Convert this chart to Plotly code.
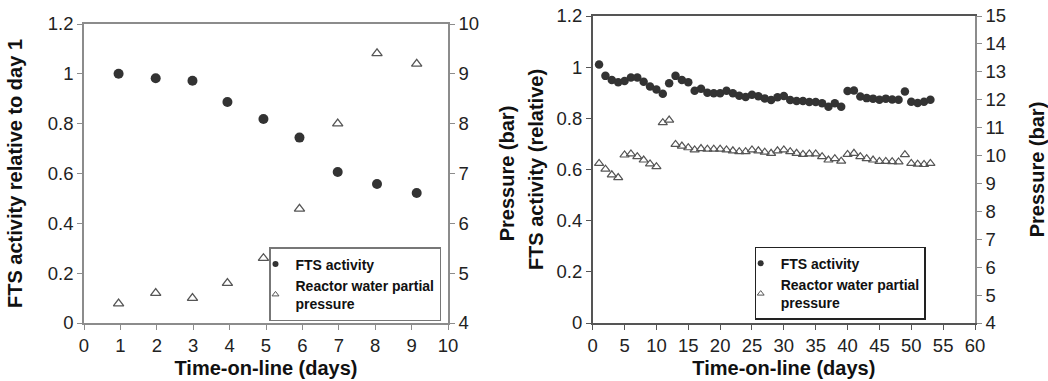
import plotly.graph_objects as go

# ---- Left panel data ----
left_days = [0.95, 1.97, 2.98, 3.94, 4.93, 5.92, 6.97, 8.05, 9.14]
left_activity = [1.0, 0.982, 0.972, 0.887, 0.819, 0.744, 0.606, 0.558, 0.522]
left_pressure = [4.39, 4.60, 4.50, 4.80, 5.30, 6.29, 8.0, 9.41, 9.20]

# ---- Right panel data ----
right_days = list(range(1, 54))
right_activity = [1.01, 0.966, 0.950, 0.941, 0.946, 0.960, 0.960, 0.943, 0.924, 0.913,
                  0.896, 0.937, 0.966, 0.950, 0.941, 0.908, 0.916, 0.900, 0.898, 0.898,
                  0.908, 0.898, 0.888, 0.883, 0.892, 0.886, 0.878, 0.872, 0.882, 0.887,
                  0.872, 0.868, 0.868, 0.864, 0.864, 0.859, 0.845, 0.859, 0.845, 0.907,
                  0.909, 0.885, 0.879, 0.877, 0.873, 0.877, 0.874, 0.873, 0.905, 0.865,
                  0.860, 0.865, 0.873]
right_pressure = [9.72, 9.51, 9.31, 9.21, 10.02, 10.06, 9.96, 9.84, 9.70, 9.60,
                  11.18, 11.27, 10.40, 10.34, 10.28, 10.20, 10.25, 10.23, 10.23, 10.23,
                  10.20, 10.17, 10.14, 10.14, 10.20, 10.17, 10.12, 10.08, 10.17, 10.20,
                  10.14, 10.08, 10.04, 10.06, 10.06, 9.96, 9.84, 9.89, 9.80, 10.04,
                  10.08, 9.96, 9.89, 9.84, 9.79, 9.79, 9.78, 9.77, 10.03, 9.72,
                  9.69, 9.68, 9.72]

left_xticks = list(range(0, 11))
right_xticks = list(range(0, 61, 5))

FONT = "Liberation Sans, Arial, Helvetica, sans-serif"
TICKFONT = dict(family=FONT, size=18.5, color="#222")
TITLEFONT = dict(family=FONT, size=20, color="#111", weight="bold")
CIRCLE = "#333333"
TRI = "#555555"

fig = go.Figure()

# left panel traces
fig.add_trace(go.Scatter(x=left_days, y=left_activity, mode="markers", xaxis="x", yaxis="y",
                         marker=dict(symbol="circle", size=10, color=CIRCLE), showlegend=False))
fig.add_trace(go.Scatter(x=left_days, y=left_pressure, mode="markers", xaxis="x", yaxis="y2",
                         marker=dict(symbol="triangle-up-open", size=9, color=TRI,
                                     line=dict(width=1.3, color=TRI)), showlegend=False))
# right panel traces
fig.add_trace(go.Scatter(x=right_days, y=right_activity, mode="markers", xaxis="x2", yaxis="y3",
                         marker=dict(symbol="circle", size=8.5, color=CIRCLE), showlegend=False))
fig.add_trace(go.Scatter(x=right_days, y=right_pressure, mode="markers", xaxis="x2", yaxis="y4",
                         marker=dict(symbol="triangle-up-open", size=8, color=TRI,
                                     line=dict(width=1.2, color=TRI)), showlegend=False))

# legend entries
for lg, xa, ya1, ya2 in [("legend", "x", "y", "y2"), ("legend2", "x2", "y3", "y4")]:
    fig.add_trace(go.Scatter(x=[None], y=[None], mode="markers", xaxis=xa, yaxis=ya1,
                             name="FTS activity", legend=lg,
                             marker=dict(symbol="circle", size=6, color=CIRCLE)))
    fig.add_trace(go.Scatter(x=[None], y=[None], mode="markers", xaxis=xa, yaxis=ya2,
                             name="Reactor water partial<br>pressure", legend=lg,
                             marker=dict(symbol="triangle-up-open", size=6, color=TRI,
                                         line=dict(width=1, color=TRI))))

LX = [84 / 1048, 448 / 1048]
RX = [592.7 / 1048, 975 / 1048]
LY = [58 / 381, 357 / 381]
RY = [58 / 381, 365 / 381]

GREY = "#8c8c8c"
DARK = "#555555"

def base(color, **kw):
    d = dict(showline=True, linecolor=color, linewidth=1.5, ticks="outside", ticklen=5,
             tickcolor=color, tickwidth=1.2, tickfont=TICKFONT, showgrid=False,
             zeroline=False, automargin=False)
    d.update(kw)
    return d

def inner(color, **kw):
    d = dict(showline=False, ticks="inside", ticklen=4, tickcolor=color, tickwidth=1.2,
             showticklabels=False, showgrid=False, zeroline=False, automargin=False)
    d.update(kw)
    return d

LEGFONT = dict(family=FONT, size=14, color="#111", weight="bold")

layout = dict(
    width=1048, height=381, margin=dict(l=0, r=0, t=0, b=0),
    paper_bgcolor="white", plot_bgcolor="white",
    # left panel
    xaxis=base(GREY, domain=LX, range=[0, 10], tickvals=left_xticks, anchor="y", mirror=True,
               title=dict(text="Time-on-line (days)", font=TITLEFONT, standoff=6)),
    yaxis=base(GREY, domain=LY, range=[0, 1.2], dtick=0.2, anchor="x",
               title=dict(text="FTS activity relative to day 1", font=TITLEFONT, standoff=20)),
    yaxis2=base(GREY, domain=LY, range=[4, 10], dtick=1, anchor="x", overlaying="y", side="right",
                title=dict(text="Pressure (bar)", font=TITLEFONT, standoff=22)),
    # right panel
    xaxis2=base(DARK, domain=RX, range=[0, 60], tickvals=right_xticks, anchor="y3", mirror=True,
                title=dict(text="Time-on-line (days)", font=TITLEFONT, standoff=6)),
    yaxis3=base(DARK, domain=RY, range=[0, 1.2], dtick=0.2, anchor="x2",
                title=dict(text="FTS activity (relative)", font=TITLEFONT, standoff=8)),
    yaxis4=base(GREY, domain=RY, range=[4, 15], dtick=1, anchor="x2", overlaying="y3", side="right",
                title=dict(text="Pressure (bar)", font=TITLEFONT, standoff=27)),
    # inward tick halves
    xaxis3=inner(GREY, domain=LX, range=[0, 10], tickvals=left_xticks, anchor="y", overlaying="x"),
    yaxis5=inner(GREY, domain=LY, range=[0, 1.2], dtick=0.2, anchor="x", overlaying="y"),
    yaxis6=inner(GREY, domain=LY, range=[4, 10], dtick=1, anchor="x", overlaying="y", side="right"),
    xaxis4=inner(DARK, domain=RX, range=[0, 60], tickvals=right_xticks, anchor="y3", overlaying="x2"),
    yaxis7=inner(DARK, domain=RY, range=[0, 1.2], dtick=0.2, anchor="x2", overlaying="y3"),
    yaxis8=inner(GREY, domain=RY, range=[4, 15], dtick=1, anchor="x2", overlaying="y3", side="right"),
    legend=dict(x=269 / 1048, y=(381 - 321) / 381, xanchor="left", yanchor="bottom",
                bgcolor="white", bordercolor="#777", borderwidth=1.5,
                font=LEGFONT, itemwidth=30, tracegroupgap=0, indentation=-15),
    legend2=dict(x=840 / 1048, y=(381 - 283) / 381, xanchor="center", yanchor="middle",
                 bgcolor="white", bordercolor="#222", borderwidth=1.2,
                 font=LEGFONT, itemwidth=30, tracegroupgap=0, indentation=-15),
)
fig.update_layout(**layout)
fig.write_html("out.html", config={"displayModeBar": False},
               post_script="document.body.style.margin='0px';")
